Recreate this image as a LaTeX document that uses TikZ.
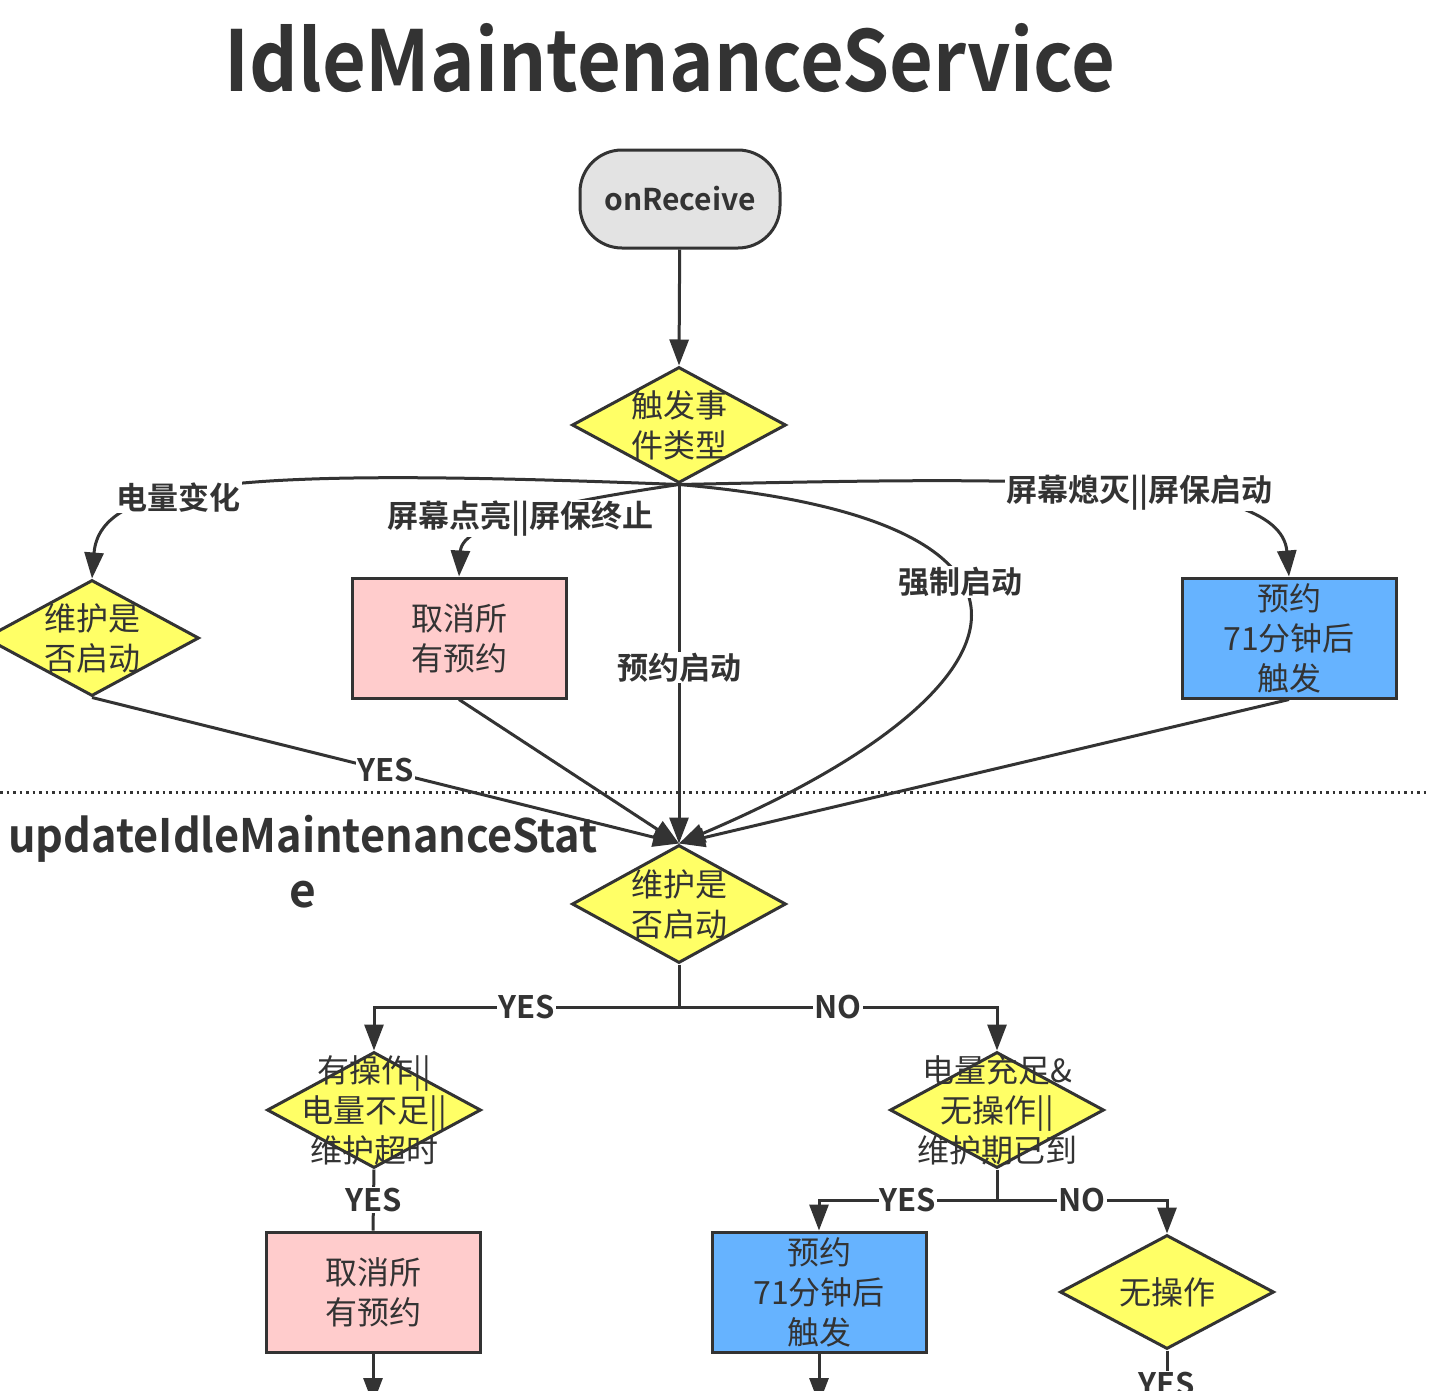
\documentclass[tikz,border=0pt]{standalone}
\usepackage{fontspec}
\setmainfont{Noto Sans CJK SC}[BoldFont={Noto Sans CJK SC Bold}]
\usetikzlibrary{shapes.geometric,arrows.meta}
\definecolor{ln}{HTML}{333333}
\definecolor{yel}{HTML}{FFFF66}
\definecolor{pnk}{HTML}{FFCCCC}
\definecolor{blu}{HTML}{66B3FF}
\definecolor{gry}{HTML}{E3E3E3}
\begin{document}
\begin{tikzpicture}[x=1pt,y=-1pt,
  dia/.style={diamond, draw=ln, fill=yel, line width=3pt, minimum width=214pt, minimum height=116pt, inner sep=0pt},
  box/.style={rectangle, draw=ln, line width=3pt, minimum width=214pt, minimum height=120pt, inner sep=0pt, align=center, text=ln, font=\fontsize{32}{40}\selectfont},
  ntext/.style={font=\fontsize{32}{40}\selectfont, align=center, text=ln, inner sep=0pt},
  lbl/.style={fill=white, font=\bfseries\fontsize{31}{36}\selectfont, text=ln, inner sep=1pt},
  arr/.style={-{Triangle[length=26pt,width=19pt]}, line width=3pt, draw=ln},
  con/.style={line width=3pt, draw=ln}]
\useasboundingbox (0,0) rectangle (1430,1390);
\clip (0,0) rectangle (1430,1390);
\fill[white] (0,0) rectangle (1430,1390);

% title and section
\node[font=\bfseries\fontsize{84}{90}\selectfont, text=ln] (title) at (670,58) {\scalebox{0.9}[1.0]{IdleMaintenanceService}};
\node[font=\bfseries\fontsize{46}{55}\selectfont, align=center, text=ln] (sec) at (303,862) {\scalebox{0.94}[1.0]{updateIdleMaintenanceStat}\\e};

% nodes
\node[draw=ln, fill=gry, line width=3pt, rounded corners=42pt, minimum width=200pt, minimum height=98pt, font=\bfseries\fontsize{30}{36}\selectfont, text=ln] (recv) at (680,199) {onReceive};
\node[dia] (d1) at (679,425) {};
\node[ntext] (d1t) at (d1) {触发事\\件类型};
\node[dia] (dl) at (92,638) {};
\node[ntext] (dlt) at (dl) {维护是\\否启动};
\node[box, fill=pnk] (p1) at (459,638) {取消所\\有预约};
\node[box, fill=blu] (b1) at (1289,638) {预约\\71分钟后\\触发};
\node[dia, minimum height=118pt] (d2) at (679,904) {};
\node[ntext] (d2t) at (d2) {维护是\\否启动};
\node[dia] (d3) at (374,1110) {};
\node[ntext] (d3t) at (d3) {有操作||\\电量不足||\\维护超时};
\node[dia] (d4) at (997,1110) {};
\node[ntext] (d4t) at (d4) {电量充足\&\\无操作||\\维护期已到};
\node[box, fill=pnk] (p2) at (373,1292) {取消所\\有预约};
\node[box, fill=blu] (b2) at (819,1292) {预约\\71分钟后\\触发};
\node[dia, minimum height=114pt] (d5) at (1167,1292) {};
\node[ntext] (d5t) at (d5) {无操作};

\coordinate (j1) at (679,1007);
\coordinate (j2) at (997,1200);
\coordinate (e1) at (373,1404);
\coordinate (e2) at (819,1404);
\coordinate (e3) at (1167,1440);

% top connectors
\draw[arr] (recv) -- (d1.north);
\draw[arr] (d1.south) .. controls (250,468) and (100,478) .. node[lbl,pos=0.6]{电量变化} (dl.north);
\draw[arr] (d1.south) .. controls (560,502) and (462,522) .. node[lbl,pos=0.52]{屏幕点亮||屏保终止} (p1.north);
\draw[arr] (d1.south) -- node[lbl,pos=0.51]{预约启动} (d2.north);
\draw[arr] (d1.south) .. controls (1090,520) and (1040,690) .. node[lbl,pos=0.4]{强制启动} (d2.north);
\draw[arr] (d1.south) .. controls (1000,478) and (1280,470) .. node[lbl,pos=0.56]{屏幕熄灭||屏保启动} (b1.north);

\draw[arr] (dl.south) -- node[lbl,pos=0.5]{YES} (d2.north);
\draw[arr] (p1.south) -- (d2.north);
\draw[arr] (b1.south) -- (d2.north);

% lower connectors
\draw[con] (d2.south) -- (j1);
\draw[arr] (j1) -| node[lbl,pos=0.25]{YES} (d3.north);
\draw[arr] (j1) -| node[lbl,pos=0.25]{NO} (d4.north);
\draw[con] (d3.south) -- node[lbl]{YES} (p2.north);
\draw[con] (d4.south) -- (j2);
\draw[arr] (j2) -| node[lbl,pos=0.25]{YES} (b2.north);
\draw[arr] (j2) -| node[lbl,pos=0.25]{NO} (d5.north);
\draw[arr] (p2.south) -- (e1);
\draw[arr] (b2.south) -- (e2);
\draw[con] (d5.south) -- node[lbl,pos=0.37]{YES} (e3);

% separator
\coordinate (s1) at (0,792);
\coordinate (s2) at (1430,792);
\draw[ln, line width=3pt, dash pattern=on 2.5pt off 4pt] (s1) -- (s2);
\end{tikzpicture}
\end{document}
